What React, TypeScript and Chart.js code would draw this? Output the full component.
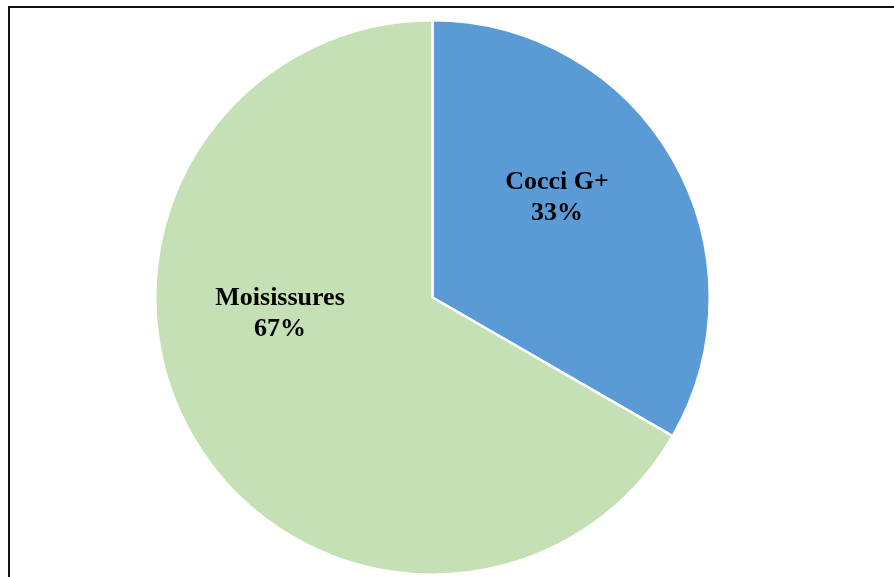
import React, { useEffect, useRef } from "react";
import { Chart, registerables } from "chart.js";

Chart.register(...registerables);

const categories = ["Cocci G+", "Moisissures"];
const values = [1, 2];
const colors = ["#5B9BD5", "#C5E0B4"];
const labelOffsets = [
  [0.449, -0.358],
  [-0.55, 0.06],
];

const framePlugin = {
  id: "frame",
  beforeDraw(chart: any) {
    const ctx = chart.ctx;
    ctx.save();
    ctx.fillStyle = "#ffffff";
    ctx.fillRect(0, 0, chart.width, chart.height);
    ctx.fillStyle = "#111111";
    ctx.fillRect(8, 6, chart.width - 8, 2);
    ctx.fillRect(8, 6, 2, chart.height - 6);
    ctx.restore();
  },
};

const labelPlugin = {
  id: "sliceLabels",
  afterDraw(chart: any) {
    const ctx = chart.ctx;
    const meta = chart.getDatasetMeta(0);
    const data = chart.data.datasets[0].data as number[];
    const total = data.reduce((a, b) => a + b, 0);
    ctx.save();
    ctx.fillStyle = "#000000";
    ctx.font = "bold 26px 'Liberation Serif', 'Times New Roman', serif";
    ctx.textAlign = "center";
    ctx.textBaseline = "middle";
    meta.data.forEach((arc: any, i: number) => {
      const r = arc.outerRadius;
      const x = arc.x + labelOffsets[i][0] * r;
      const y = arc.y + labelOffsets[i][1] * r;
      const pct = Math.round((data[i] / total) * 100) + "%";
      ctx.fillText(String(chart.data.labels[i]), x, y - 15.5);
      ctx.fillText(pct, x, y + 15.5);
    });
    ctx.restore();
  },
};

export default function App() {
  const ref = useRef<HTMLCanvasElement | null>(null);
  useEffect(() => {
    if (!ref.current) return;
    const chart = new Chart(ref.current, {
      type: "pie",
      data: {
        labels: categories,
        datasets: [
          {
            data: values,
            backgroundColor: colors,
            borderColor: "#ffffff",
            borderWidth: 2.5,
          },
        ],
      },
      options: {
        animation: false,
        responsive: false,
        maintainAspectRatio: false,
        layout: { padding: { left: 154, right: 183, top: 19, bottom: 1 } },
        plugins: {
          legend: { display: false },
          tooltip: { enabled: false },
        },
      },
      plugins: [framePlugin, labelPlugin],
    });
    return () => chart.destroy();
  }, []);
  return (
    <div style={{ position: "fixed", left: 0, top: 0, width: 894, height: 577 }}>
      <canvas ref={ref} width={894} height={577} style={{ display: "block" }} />
    </div>
  );
}
